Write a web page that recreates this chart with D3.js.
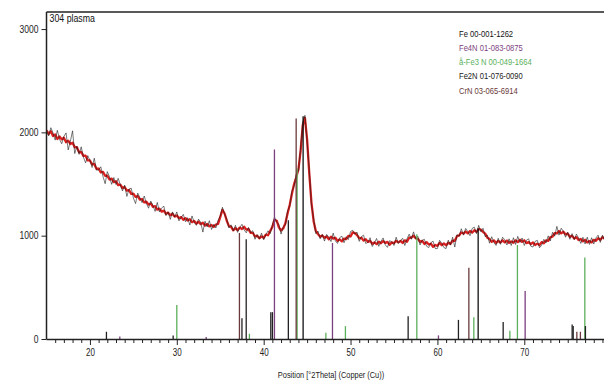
<!DOCTYPE html>
<html>
<head>
<meta charset="utf-8">
<script src="https://cdn.jsdelivr.net/npm/d3@7"></script>
<style>
  body { margin: 0; background: #fff; }
  svg { display: block; }
  text { font-family: "Liberation Sans", Arial, sans-serif; }
</style>
</head>
<body>
<div class="chart"></div>
<script>
// scan grid (deg 2theta)
const thetaStart = 15;
const thetaStep = 0.25;

// fitted profile (red)
const profileCounts = [
  2020,1985,2010,1965,1980,1935,1960,1932,
  1948,1905,1920,1888,1900,1855,1857,1807,
  1810,1772,1775,1728,1728,1690,1694,1648,
  1650,1612,1617,1580,1580,1544,1552,1518,
  1527,1490,1495,1461,1470,1437,1442,1405,
  1408,1376,1384,1350,1355,1322,1330,1301,
  1312,1280,1285,1252,1262,1233,1242,1212,
  1223,1198,1212,1184,1195,1168,1180,1154,
  1170,1146,1160,1131,1143,1118,1135,1112,
  1125,1098,1113,1090,1103,1085,1108,1115,
  1180,1250,1215,1145,1092,1085,1052,1072,
  1054,1078,1065,1087,1058,1063,1028,1028,
  992,1000,975,993,980,1010,1004,1045,
  1085,1155,1145,1080,1050,1070,1120,1215,
  1300,1405,1500,1565,1640,1820,2070,2140,
  1930,1600,1320,1140,1045,1015,990,1002,
  980,992,965,990,972,980,950,964,
  945,972,967,998,992,1032,1025,1005,
  975,980,952,965,940,950,922,935,
  918,942,927,948,930,940,912,935,
  927,950,935,950,930,955,942,980,
  982,1000,975,970,940,950,920,938,
  915,922,892,910,902,930,908,925,
  907,932,920,953,950,995,1002,1032,
  1020,1040,1022,1045,1030,1052,1037,1065,
  1058,1037,1020,980,967,940,955,930,
  950,934,955,936,953,930,945,932,
  955,938,960,940,955,928,938,918,
  935,910,923,908,938,927,955,950,
  985,990,1025,1022,1045,1022,1038,1012,
  1020,990,998,972,985,958,968,945,
  960,935,948,935,960,950,975,960,
  985,972,990
];

// measured counts (black)
const observedCounts = [
  2020,1965,2045,1995,1925,2020,1933,1890,
  1960,1995,1830,1915,2015,1795,1865,1787,
  1860,1760,1705,1775,1730,1660,1750,1635,
  1635,1667,1575,1503,1620,1571,1497,1563,
  1495,1555,1492,1433,1490,1380,1450,1460,
  1365,1311,1412,1368,1320,1384,1312,1266,
  1335,1293,1235,1322,1230,1266,1287,1194,
  1230,1158,1230,1182,1230,1143,1177,1206,
  1135,1174,1103,1191,1130,1100,1160,1130,
  1035,1140,1085,1145,1060,1110,1075,1150,
  1190,1275,1210,1160,1075,1105,1047,1100,
  1032,1078,1110,1055,1028,1080,1030,1048,
  965,1010,970,1025,960,1010,1047,1020,
  1100,1180,1130,1110,1015,1085,1105,1240,
  1285,1430,1480,1595,1625,1850,2100,2165,
  1910,1630,1300,1165,1020,1045,970,1012,
  948,1012,985,943,1025,950,925,981,
  995,932,990,963,1040,1052,1015,1035,
  945,990,1005,925,935,980,895,930,
  973,897,945,978,910,887,952,940,
  905,985,925,952,975,905,970,1015,
  965,1037,970,995,910,955,965,898,
  885,932,947,875,875,955,928,885,
  875,957,910,985,890,1010,995,1067,
  1005,1070,1040,1000,1070,1082,1020,1100,
  1038,1072,990,1005,927,990,935,905,
  975,917,985,961,910,970,905,980,
  915,993,935,978,905,958,970,898,
  890,945,955,883,908,965,930,998,
  950,1033,995,1090,1005,1072,1043,985,
  1035,965,1020,962,1015,978,925,985,
  920,985,915,980,920,978,1005,935,
  1005,955,1005
];

// reference patterns (stick positions / heights)
const feTheta = [44.54, 64.69];
const feHeight = [2155, 1070];
const fe4nTheta = [23.44, 33.38, 41.24, 47.92, 60.12, 70.10];
const fe4nHeight = [25, 20, 1835, 930, 35, 465];
const fe3nTheta = [30.00, 38.36, 43.85, 47.16, 49.41, 57.63, 64.19, 68.34, 69.21, 76.97];
const fe3nHeight = [330, 50, 1650, 60, 125, 1015, 210, 80, 910, 790];
const fe2nTheta = [21.90, 29.58, 37.50, 37.99, 40.82, 41.01, 42.84, 56.63, 62.42, 67.57, 75.51, 75.63, 77.04];
const fe2nHeight = [70, 35, 200, 965, 260, 260, 1150, 220, 185, 165, 140, 125, 125];
const crnTheta = [37.21, 43.74, 63.62, 76.05, 76.46];
const crnHeight = [1025, 2135, 690, 70, 70];

const legendLabels = ['Fe 00-001-1262', 'Fe4N 01-083-0875', 'å-Fe3 N 00-049-1664', 'Fe2N 01-076-0090', 'CrN 03-065-6914'];
const sampleLabel = '304 plasma';
const xTicks = [20, 30, 40, 50, 60, 70];
const yTicks = [0, 1000, 2000, 3000];
const xTitle = 'Position [°2Theta] (Copper (Cu))';

const phaseColors = ['#111111', '#7e3f80', '#5cb05c', '#222222', '#6a3a3a'];

const width = 604;
const height = 382;
const plotLeft = 46.5, plotTop = 12, plotBottom = 339;

const x = d3.scaleLinear().domain([15, 80]).range([plotLeft, plotLeft + 65 * 8.687]);
const y = d3.scaleLinear().domain([0, 3165]).range([plotBottom, plotTop]);

const svg = d3.select('.chart')
  .append('svg')
  .attr('width', width)
  .attr('height', height);

// narrow the text like the original's condensed font
function squeeze(sel, ratio) {
  sel.each(function() {
    const w = this.getComputedTextLength();
    if (w > 0) {
      d3.select(this)
        .attr('textLength', w * ratio)
        .attr('lengthAdjust', 'spacingAndGlyphs');
    }
  });
}

svg.append('clipPath').attr('id', 'plot')
  .append('rect')
  .attr('x', plotLeft).attr('y', plotTop)
  .attr('width', width - plotLeft).attr('height', plotBottom - plotTop + 1);

const plot = svg.append('g').attr('clip-path', 'url(#plot)');

// curves
const toPoints = arr => arr.map((c, i) => [thetaStart + i * thetaStep, c]);
const line = d3.line().x(d => x(d[0])).y(d => y(d[1]));

plot.append('path')
  .attr('d', line(toPoints(profileCounts)))
  .attr('fill', 'none')
  .attr('stroke', '#dc1f1f')
  .attr('stroke-width', 2.3)
  .attr('stroke-linejoin', 'round');

plot.append('path')
  .attr('d', line(toPoints(observedCounts)))
  .attr('fill', 'none')
  .attr('stroke', '#1a1a1a')
  .attr('stroke-opacity', 0.65)
  .attr('stroke-width', 0.9);

// reference sticks
const phases = [
  [feTheta, feHeight],
  [fe4nTheta, fe4nHeight],
  [fe3nTheta, fe3nHeight],
  [fe2nTheta, fe2nHeight],
  [crnTheta, crnHeight]
];

phases.forEach(([thetas, heights], k) => {
  plot.append('g')
    .selectAll('line')
    .data(thetas)
    .enter()
    .append('line')
    .attr('x1', d => x(d))
    .attr('x2', d => x(d))
    .attr('y1', y(0))
    .attr('y2', (d, i) => y(heights[i]))
    .attr('stroke', phaseColors[k])
    .attr('stroke-width', 1.3);
});

// axes
const xAxis = d3.axisBottom(x)
  .tickValues(d3.range(16, 80, 1))
  .tickSize(4)
  .tickFormat(d => xTicks.includes(d) ? d : '');

const gx = svg.append('g')
  .attr('transform', `translate(0,${plotBottom})`)
  .call(xAxis);
gx.select('.domain').attr('d', `M${plotLeft},0.5H${width}`).attr('stroke', '#222').attr('stroke-width', 1.5);
gx.selectAll('.tick line')
  .attr('stroke', '#222')
  .attr('y2', d => xTicks.includes(d) ? 6 : 4);
gx.selectAll('.tick text')
  .attr('y', 10)
  .attr('font-size', 10)
  .attr('font-family', '"Liberation Sans", Arial, sans-serif')
  .attr('fill', '#222')
  .call(squeeze, 0.8);

const yAxis = d3.axisLeft(y)
  .tickValues(yTicks)
  .tickFormat(d3.format('d'))
  .tickSize(5)
  .tickPadding(3);

const gy = svg.append('g')
  .attr('transform', `translate(${plotLeft},0)`)
  .call(yAxis);
gy.select('.domain').attr('d', `M0,${plotTop}V${plotBottom}`).attr('stroke', '#222').attr('stroke-width', 1.5);
gy.selectAll('.tick line').attr('stroke', '#222');
gy.selectAll('.tick text')
  .attr('font-size', 10)
  .attr('font-family', '"Liberation Sans", Arial, sans-serif')
  .attr('fill', '#222')
  .call(squeeze, 0.85);

// top frame
svg.append('line')
  .attr('x1', plotLeft).attr('x2', width)
  .attr('y1', plotTop).attr('y2', plotTop)
  .attr('stroke', '#222').attr('stroke-width', 1.5);

svg.append('text')
  .attr('x', plotLeft + 3).attr('y', plotTop + 10)
  .attr('font-size', 10)
  .attr('fill', '#111')
  .text(sampleLabel)
  .call(squeeze, 0.88);

// legend
svg.append('g')
  .selectAll('text')
  .data(legendLabels)
  .enter()
  .append('text')
  .attr('x', 459)
  .attr('y', (d, i) => 36.5 + i * 14.3)
  .attr('font-size', 9.5)
  .attr('fill', (d, i) => phaseColors[i])
  .text(d => d)
  .call(squeeze, 0.8);

svg.append('text')
  .attr('x', 331).attr('y', 378)
  .attr('text-anchor', 'middle')
  .attr('font-size', 9.5)
  .attr('fill', '#222')
  .text(xTitle)
  .call(squeeze, 0.78);
</script>
</body>
</html>
